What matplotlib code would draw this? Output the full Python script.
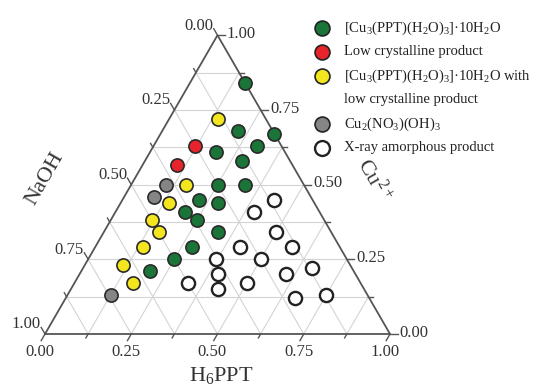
import numpy as np
import matplotlib
matplotlib.use("Agg")
import matplotlib.pyplot as plt

plt.rcParams["font.family"] = ["Liberation Serif", "DejaVu Serif"]
plt.rcParams["mathtext.fontset"] = "custom"
plt.rcParams["mathtext.rm"] = "Liberation Serif"
plt.rcParams["mathtext.default"] = "regular"

# ---- data: molar fractions (H6PPT, Cu2+); NaOH = 1 - H6PPT - Cu2+ ----
green_h  = [0.16, 0.33, 0.22, 0.19, 0.30, 0.28, 0.25, 0.33, 0.22, 0.28, 0.20, 0.25, 0.33, 0.28, 0.25, 0.20]
green_cu = [0.84, 0.67, 0.68, 0.61, 0.63, 0.58, 0.50, 0.50, 0.45, 0.44, 0.41, 0.38, 0.34, 0.29, 0.25, 0.21]

red_h  = [0.12, 0.10]
red_cu = [0.63, 0.565]

yellow_h  = [0.14, 0.16, 0.14, 0.12, 0.16, 0.14, 0.11, 0.17]
yellow_cu = [0.72, 0.50, 0.44, 0.38, 0.34, 0.29, 0.23, 0.17]

gray_h  = [0.10, 0.085, 0.125]
gray_cu = [0.50, 0.46, 0.13]

open_h  = [0.44, 0.40, 0.50, 0.42, 0.57, 0.37, 0.50, 0.665, 0.60, 0.40, 0.33, 0.50, 0.425, 0.665, 0.75]
open_cu = [0.45, 0.41, 0.34, 0.29, 0.29, 0.25, 0.25, 0.22, 0.20, 0.20, 0.17, 0.17, 0.15, 0.12, 0.13]

tick_values = [0.0, 0.25, 0.5, 0.75, 1.0]
minor_values = [0.125, 0.375, 0.625, 0.875]

legend_labels = [
    r"[Cu$_3$(PPT)(H$_2$O)$_3$]·10H$_2$O",
    "Low crystalline product",
    "[Cu$_3$(PPT)(H$_2$O)$_3$]·10H$_2$O with\nlow crystalline product",
    r"Cu$_2$(NO$_3$)(OH)$_3$",
    "X-ray amorphous product",
]

SQ = np.sqrt(3) / 2


def to_xy(h, cu):
    h = np.asarray(h, float)
    cu = np.asarray(cu, float)
    return h + 0.5 * cu, cu * SQ


fig = plt.figure(figsize=(5.54, 3.87), dpi=100)
ax = fig.add_axes([0, 0, 1, 1])
ax.set_xlim(-45 / 345, 509 / 345)
ax.set_ylim(-53 / 345, 334 / 345)
ax.axis("off")

# grid every 0.125
grid_kw = dict(color="#d4d4d4", lw=0.8, zorder=1)
for v in np.arange(0.125, 1.0, 0.125):
    x, y = to_xy([0, 1 - v], [v, v])          # constant Cu
    ax.plot(x, y, **grid_kw)
    x, y = to_xy([v, v], [0, 1 - v])          # constant H6PPT
    ax.plot(x, y, **grid_kw)
    x, y = to_xy([1 - v, 0], [0, 1 - v])      # constant NaOH
    ax.plot(x, y, **grid_kw)

# triangle frame
x, y = to_xy([0, 1, 0, 0], [0, 0, 1, 0])
ax.plot(x, y, color="#555555", lw=1.3, zorder=2, solid_joinstyle="miter")

# ticks and labels
L, Lm = 0.022, 0.013
dl = np.array([-0.5, -SQ])     # bottom axis, outward
dL = np.array([-0.5, SQ])      # left axis, outward
dR = np.array([1.0, 0.0])      # right axis, outward
tick_kw = dict(color="#555555", lw=1.0, zorder=2)
for vals, ln in ((tick_values, L), (minor_values, Lm)):
    for v in vals:
        bx, by = to_xy(v, 0)
        ax.plot([bx, bx + ln * dl[0]], [by, by + ln * dl[1]], **tick_kw)
        lx, ly = to_xy(0, 1 - v)
        ax.plot([lx, lx + ln * dL[0]], [ly, ly + ln * dL[1]], **tick_kw)
        rx, ry = to_xy(1 - v, v)
        ax.plot([rx, rx + ln * dR[0]], [ry, ry + ln * dR[1]], **tick_kw)

fs_tick = 12
for v in tick_values:
    bx, by = to_xy(v, 0)
    ax.text(bx - 0.015, by - 0.052, f"{v:.2f}", ha="center", va="center", fontsize=fs_tick, color="#333333")
    lx, ly = to_xy(0, 1 - v)
    ax.text(lx - 0.012, ly + 0.028, f"{v:.2f}", ha="right", va="center", fontsize=fs_tick, color="#333333")
    rx, ry = to_xy(1 - v, v)
    ax.text(rx + 0.027, ry + 0.004, f"{v:.2f}", ha="left", va="center", fontsize=fs_tick, color="#333333")

# axis titles
ax.text(0.0, (334 - 179) / 345, "NaOH", rotation=60, ha="center", va="center",
        fontsize=16, color="#333333")
ax.text((374 - 45) / 345, (334 - 180) / 345, r"Cu$^{2+}$", rotation=-60, ha="center", va="center",
        fontsize=16, color="#333333")
ax.text((221 - 45) / 345, (334 - 375) / 345, r"H$_6$PPT", ha="center", va="center",
        fontsize=16, color="#333333")

# data points
ms = 90
filled = [
    (green_h, green_cu, "#1b7538"),
    (red_h, red_cu, "#e8232b"),
    (yellow_h, yellow_cu, "#f3e61f"),
    (gray_h, gray_cu, "#858585"),
]
for h, cu, c in filled:
    x, y = to_xy(h, cu)
    ax.scatter(x, y, s=ms, facecolor=c, edgecolor="#2a2a2a", linewidth=1.2, zorder=3)
x, y = to_xy(open_h, open_cu)
ax.scatter(x, y, s=ms, facecolor="white", edgecolor="#222222", linewidth=1.7, zorder=3)

# legend drawn by hand (figure fraction == axes fraction here)
leg_colors = ["#1b7538", "#e8232b", "#f3e61f", "#858585", "white"]
row = 0
for lab, c in zip(legend_labels, leg_colors):
    py = 28 + 24 * row
    lw = 1.7 if c == "white" else 1.2
    ax.scatter([322 / 554], [1 - py / 387], s=ms + 25, facecolor=c, edgecolor="#222222",
               linewidth=lw, transform=ax.transAxes, clip_on=False, zorder=3)
    for line in lab.split("\n"):
        py = 28 + 24 * row
        ax.text(344 / 554, 1 - py / 387, line, transform=ax.transAxes, ha="left",
                va="center", fontsize=10.5, color="#222222")
        row += 1

fig.savefig("out.png", dpi=100)
